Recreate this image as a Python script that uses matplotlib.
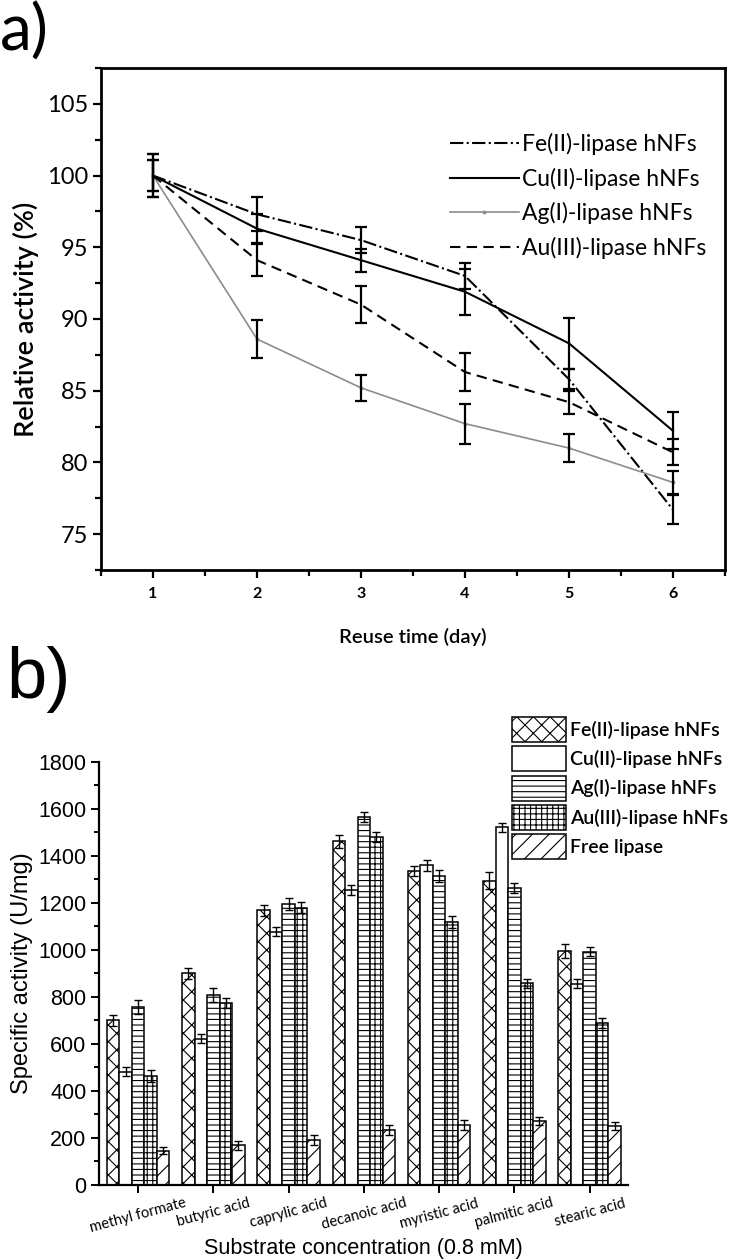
"""
Reuse stability and substrate specificity of metal-lipase hybrid nanoflowers.
a) relative activity over reuse days, b) specific activity per substrate.
"""

import matplotlib
matplotlib.use("Agg")
import matplotlib.pyplot as plt
import numpy as np
from matplotlib.ticker import MultipleLocator

# ---- panel a data (relative activity, %) ----
days = [1, 2, 3, 4, 5, 6]
fe_act = [100, 97.3, 95.5, 93.0, 85.8, 76.7]
fe_err = [1.5, 1.2, 0.9, 0.9, 0.7, 1.0]
cu_act = [100, 96.3, 94.1, 91.9, 88.3, 82.2]
cu_err = [1.1, 1.0, 0.8, 1.6, 1.8, 1.3]
ag_act = [100, 88.6, 85.2, 82.7, 81.0, 78.6]
ag_err = [1.1, 1.3, 0.9, 1.4, 1.0, 0.8]
au_act = [100, 94.1, 91.0, 86.3, 84.2, 80.7]
au_err = [1.5, 1.1, 1.3, 1.3, 0.8, 0.9]

# ---- panel b data (specific activity, U/mg) ----
substrates = ["methyl formate", "butyric acid", "caprylic acid", "decanoic acid",
              "myristic acid", "palmitic acid", "stearic acid"]
fe_spec = [700, 900, 1168, 1462, 1335, 1295, 995]
cu_spec = [482, 622, 1078, 1255, 1360, 1522, 857]
ag_spec = [758, 808, 1195, 1565, 1315, 1265, 993]
au_spec = [465, 774, 1180, 1480, 1118, 858, 690]
free_spec = [146, 168, 192, 234, 255, 273, 250]
fe_spec_err = [25, 22, 25, 28, 22, 35, 30]
cu_spec_err = [18, 20, 18, 22, 22, 18, 18]
ag_spec_err = [30, 28, 25, 22, 25, 22, 20]
au_spec_err = [25, 20, 22, 20, 25, 20, 20]
free_spec_err = [15, 18, 20, 22, 20, 18, 18]

labels_metal = ["Fe(II)-lipase hNFs", "Cu(II)-lipase hNFs",
                "Ag(I)-lipase hNFs", "Au(III)-lipase hNFs"]

plt.rcParams["hatch.linewidth"] = 0.8
fig = plt.figure(figsize=(7.37, 12.59), dpi=100)

# ================= panel a =================
ax1 = fig.add_axes([0.137, 0.5473, 0.8467, 0.3987])
ax1.plot(days, fe_act, color="black", lw=1.5, ls="-.", label=labels_metal[0])
ax1.plot(days, cu_act, color="black", lw=1.5, ls="-", label=labels_metal[1])
ax1.plot(days, ag_act, color="0.55", lw=1.2, ls="-", marker="o", ms=1.8,
         label=labels_metal[2])
ax1.plot(days, au_act, color="black", lw=1.5, ls=(0, (5, 3)), label=labels_metal[3])
for vals, errs in [(fe_act, fe_err), (cu_act, cu_err), (ag_act, ag_err), (au_act, au_err)]:
    ax1.errorbar(days, vals, yerr=errs, fmt="none", ecolor="black",
                 elinewidth=1.6, capsize=4.5, capthick=1.6)

ax1.set_xlim(0.5, 6.5)
ax1.set_ylim(72.5, 107.5)
ax1.xaxis.set_major_locator(MultipleLocator(1))
ax1.xaxis.set_minor_locator(MultipleLocator(0.5))
ax1.yaxis.set_major_locator(MultipleLocator(5))
ax1.yaxis.set_minor_locator(MultipleLocator(2.5))
ax1.tick_params(which="both", direction="out", width=1.6)
ax1.tick_params(which="major", length=6)
ax1.tick_params(which="minor", length=4)
ax1.tick_params(axis="y", labelsize=17, pad=3)
ax1.tick_params(axis="x", labelsize=11.5, pad=6)
for lab in ax1.get_yticklabels():
    lab.set_fontfamily("Lato")
for lab in ax1.get_xticklabels():
    lab.set_fontfamily("Lato")
    lab.set_fontweight("bold")
for sp in ax1.spines.values():
    sp.set_linewidth(2)
ax1.set_ylabel("Relative activity (%)", fontsize=19.5, fontfamily="Lato",
               fontweight="semibold", labelpad=6)
ax1.set_xlabel("Reuse time (day)", fontsize=14.5, fontfamily="Lato",
               fontweight="semibold", labelpad=20)
fig.legend(*ax1.get_legend_handles_labels(), loc="upper left",
           bbox_to_anchor=(450 / 737, 1 - 133 / 1259), frameon=False,
           prop={"family": "Lato", "size": 16.5}, handlelength=3.0,
           handletextpad=0.15, labelspacing=0.55, borderpad=0, borderaxespad=0)
fig.text(0.0, 1 - 2 / 1259, "a)", fontsize=46, fontfamily="Lato", va="top", ha="left")

# ================= panel b =================
ax2 = fig.add_axes([0.1343, 0.0588, 0.7178, 0.336])
x = np.arange(len(substrates))
w = 0.166
series = [
    (fe_spec, fe_spec_err, "xx", labels_metal[0]),
    (cu_spec, cu_spec_err, "", labels_metal[1]),
    (ag_spec, ag_spec_err, "---", labels_metal[2]),
    (au_spec, au_spec_err, "+++", labels_metal[3]),
    (free_spec, free_spec_err, "//", "Free lipase"),
]
handles = []
for i, (vals, errs, hatch, lab) in enumerate(series):
    pos = x + (i - 2) * w
    b = ax2.bar(pos, vals, width=w, color="white", edgecolor="black",
                linewidth=1.1, hatch=hatch, label=lab)
    ax2.errorbar(pos, vals, yerr=errs, fmt="none", ecolor="black",
                 elinewidth=1.0, capsize=3, capthick=1.0)
    handles.append(b)

ax2.set_xlim(-0.52, 6.51)
ax2.set_ylim(0, 1800)
ax2.yaxis.set_major_locator(MultipleLocator(200))
ax2.yaxis.set_minor_locator(MultipleLocator(100))
ax2.set_xticks(x)
ax2.set_xticklabels(substrates, rotation=15, fontsize=10.5, fontfamily="Lato",
                    ha="center")
ax2.spines["top"].set_visible(False)
ax2.spines["right"].set_visible(False)
for sp in ax2.spines.values():
    sp.set_linewidth(1.6)
ax2.tick_params(which="both", direction="out", width=1.4)
ax2.tick_params(which="major", length=6)
ax2.tick_params(which="minor", length=3.5)
ax2.tick_params(axis="y", labelsize=15.5, pad=3)
ax2.tick_params(axis="x", pad=2)
for lab in ax2.get_yticklabels():
    lab.set_fontfamily("Liberation Sans")
ax2.set_ylabel("Specific activity (U/mg)", fontsize=17,
               fontfamily="Liberation Sans", labelpad=4)
ax2.set_xlabel("Substrate concentration (0.8 mM)", fontsize=15.5,
               fontfamily="Liberation Sans", labelpad=2)
fig.legend(handles=handles, loc="upper left",
           bbox_to_anchor=(512 / 737, 1 - 717 / 1259), frameon=False,
           prop={"family": "Lato", "size": 14, "weight": "semibold"},
           handlelength=2.8, handleheight=1.6, handletextpad=0.2,
           labelspacing=0.22, borderpad=0, borderaxespad=0)
fig.text(0.008, 1 - 646 / 1259, "b)", fontsize=52, fontfamily="Liberation Sans",
         va="top", ha="left")

fig.savefig("out.png", dpi=100)
